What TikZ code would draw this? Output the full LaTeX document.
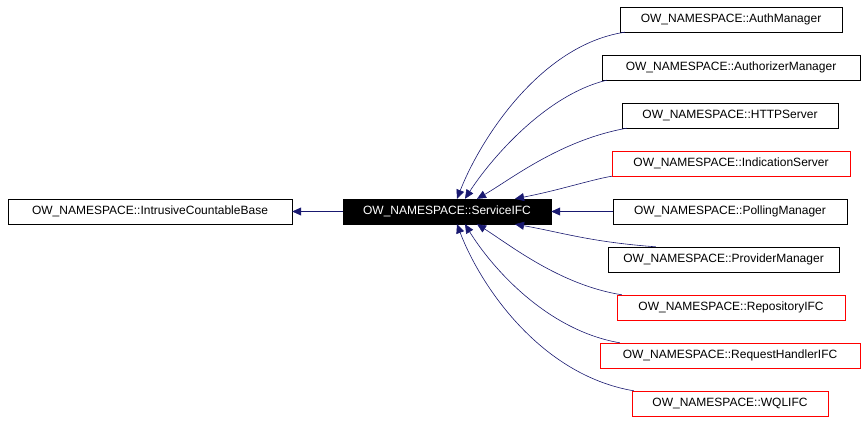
\documentclass[tikz,border=0pt]{standalone}
\usepackage{fontspec}
\setmainfont{Liberation Sans}
\usetikzlibrary{arrows.meta,positioning}
\definecolor{edgeblue}{RGB}{25,25,112}
\begin{document}
\begin{tikzpicture}[x=1pt,y=-1pt,
    cls/.style={draw=black, fill=white, minimum height=25pt, inner sep=0pt, font=\fontsize{12}{14}\selectfont},
    undoc/.style={cls, draw=red},
    main/.style={cls, fill=black, text=white},
    inherit/.style={draw=edgeblue, line width=0.6pt, -{Triangle[open, fill=edgeblue, length=9pt, width=8pt]}}
]
\useasboundingbox (0,0) rectangle (867,421);

% base classes
\node[cls, minimum width=284pt] (base) at (150,211.5) {OW\_NAMESPACE::IntrusiveCountableBase};
\node[main, minimum width=208pt] (svc) at (447,211.5) {OW\_NAMESPACE::ServiceIFC};

% derived classes
\node[cls, minimum width=222pt] (auth) at (731,19.5) {OW\_NAMESPACE::AuthManager};
\node[cls, minimum width=258pt] (authz) at (731,67.5) {OW\_NAMESPACE::AuthorizerManager};
\node[cls, minimum width=216pt] (http) at (730,115.5) {OW\_NAMESPACE::HTTPServer};
\node[undoc, minimum width=238pt] (ind) at (731,163.5) {OW\_NAMESPACE::IndicationServer};
\node[cls, minimum width=234pt] (poll) at (730,211.5) {OW\_NAMESPACE::PollingManager};
\node[cls, minimum width=231pt] (prov) at (723.5,259.5) {OW\_NAMESPACE::ProviderManager};
\node[undoc, minimum width=228pt] (repo) at (731,307.5) {OW\_NAMESPACE::RepositoryIFC};
\node[undoc, minimum width=260pt] (req) at (730,355.5) {OW\_NAMESPACE::RequestHandlerIFC};
\node[undoc, minimum width=196pt] (wql) at (730,403.5) {OW\_NAMESPACE::WQLIFC};

% inheritance edges
\draw[inherit] (svc.west) -- (base.east);
\draw[inherit] ([xshift=5pt]auth.south west) .. controls (540,45) and (480,140) .. ([xshift=10pt]svc.north);
\draw[inherit] ([xshift=5pt]authz.south west) .. controls (545,95) and (490,160) .. ([xshift=18pt]svc.north);
\draw[inherit] ([xshift=5pt]http.south west) .. controls (560,140) and (510,180) .. ([xshift=30pt]svc.north);
\draw[inherit] (ind.south west) .. controls (590,180) and (560,190) .. ([xshift=68pt]svc.north);
\draw[inherit] (poll.west) -- (svc.east);
\draw[inherit] ([xshift=48pt]prov.north west) .. controls (590,242) and (560,232) .. ([xshift=68pt]svc.south);
\draw[inherit] ([xshift=5pt]repo.north west) .. controls (560,285) and (510,245) .. ([xshift=30pt]svc.south);
\draw[inherit] ([xshift=20pt]req.north west) .. controls (545,330) and (490,265) .. ([xshift=18pt]svc.south);
\draw[inherit] ([xshift=2pt]wql.north west) .. controls (540,375) and (480,285) .. ([xshift=10pt]svc.south);
\end{tikzpicture}
\end{document}
